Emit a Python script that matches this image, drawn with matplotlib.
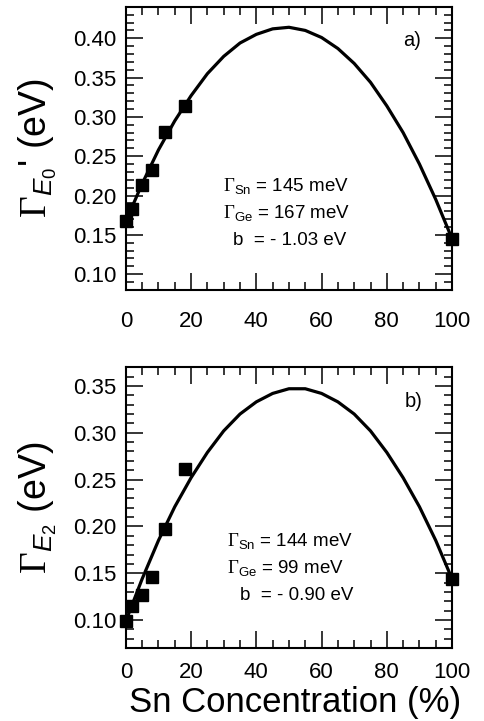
import matplotlib
matplotlib.use('Agg')
import matplotlib.pyplot as plt
from matplotlib.ticker import MultipleLocator

plt.rcParams['font.family'] = ['Liberation Sans', 'DejaVu Sans']
plt.rcParams['mathtext.fontset'] = 'custom'
plt.rcParams['mathtext.rm'] = 'Liberation Serif'
plt.rcParams['mathtext.it'] = 'Liberation Sans:italic'
plt.rcParams['mathtext.sf'] = 'Liberation Sans'
plt.rcParams['mathtext.bf'] = 'Liberation Sans:bold'

# measured points (Sn %, broadening in eV)
sn_pts = [0, 2, 5, 8, 12, 18, 100]
gamma_e0p = [0.167, 0.183, 0.214, 0.232, 0.281, 0.314, 0.145]
gamma_e2 = [0.099, 0.115, 0.127, 0.146, 0.197, 0.261, 0.144]

# fit curves
sn_fit = [0, 5, 10, 15, 20, 25, 30, 35, 40, 45, 50,
          55, 60, 65, 70, 75, 80, 85, 90, 95, 100]
fit_e0p = [0.167, 0.215, 0.258, 0.295, 0.327, 0.355, 0.377, 0.394, 0.405, 0.412, 0.414,
           0.410, 0.401, 0.387, 0.368, 0.344, 0.314, 0.280, 0.240, 0.195, 0.145]
fit_e2 = [0.099, 0.144, 0.185, 0.221, 0.252, 0.279, 0.302, 0.320, 0.333, 0.342, 0.347,
          0.347, 0.342, 0.333, 0.320, 0.302, 0.279, 0.252, 0.221, 0.185, 0.144]

notes_a = [r"$\Gamma_{\mathsf{Sn}}$ = 145 meV", r"$\Gamma_{\mathsf{Ge}}$ = 167 meV", "b  = - 1.03 eV"]
notes_b = [r"$\Gamma_{\mathsf{Sn}}$ = 144 meV", r"$\Gamma_{\mathsf{Ge}}$ = 99 meV", "b  = - 0.90 eV"]

fig = plt.figure(figsize=(4.84, 7.21), dpi=100)
ax_a = fig.add_axes([0.260, 0.598, 0.674, 0.3925])
ax_b = fig.add_axes([0.260, 0.101, 0.674, 0.3897])


def style(ax, ylim, xpad):
    ax.set_xlim(0, 100)
    ax.set_ylim(*ylim)
    ax.xaxis.set_major_locator(MultipleLocator(20))
    ax.xaxis.set_minor_locator(MultipleLocator(5))
    ax.yaxis.set_major_locator(MultipleLocator(0.05))
    ax.yaxis.set_minor_locator(MultipleLocator(0.01))
    ax.yaxis.set_major_formatter(plt.FormatStrFormatter('%.2f'))
    ax.tick_params(which='both', direction='in', top=True, right=True,
                   width=1.1, labelsize=16)
    ax.tick_params(which='major', length=12.5)
    ax.tick_params(which='minor', length=5.5)
    ax.tick_params(axis='x', pad=xpad)
    ax.tick_params(axis='y', pad=7)
    for s in ax.spines.values():
        s.set_linewidth(1.5)


for ax, ys, fit, ylim, xpad in [(ax_a, gamma_e0p, fit_e0p, (0.08, 0.44), 15),
                                (ax_b, gamma_e2, fit_e2, (0.07, 0.37), 10)]:
    style(ax, ylim, xpad)
    ax.plot(sn_fit, fit, color='black', lw=2.3, zorder=3)
    ax.plot(sn_pts, ys, 's', color='black', ms=8.7, clip_on=False, zorder=5)

ax_a.set_ylabel(r"$\Gamma_{E_{\mathsf{0}}}$' (eV)", fontsize=27)
ax_a.yaxis.set_label_coords(-0.205, 0.5)
ax_b.set_ylabel(r"$\Gamma_{E_{\mathsf{2}}}$ (eV)", fontsize=27)
ax_b.yaxis.set_label_coords(-0.205, 0.5)
ax_b.set_xlabel("Sn Concentration (%)", fontsize=25)
ax_b.xaxis.set_label_coords(0.52, -0.135)
ax_b.xaxis.label.set_va('top')

ax_a.text(0.85, 0.862, "a)", transform=ax_a.transAxes, fontsize=14.5)
ax_b.text(0.856, 0.858, "b)", transform=ax_b.transAxes, fontsize=14.5)

for ax, notes, xs, ys in [(ax_a, notes_a, [0.297, 0.297, 0.330], [0.350, 0.254, 0.159]),
                          (ax_b, notes_b, [0.309, 0.309, 0.349], [0.363, 0.267, 0.171])]:
    for t, x, y in zip(notes, xs, ys):
        ax.text(x, y, t, transform=ax.transAxes, fontsize=13.5, va='baseline')

fig.savefig('out.png', dpi=100)
